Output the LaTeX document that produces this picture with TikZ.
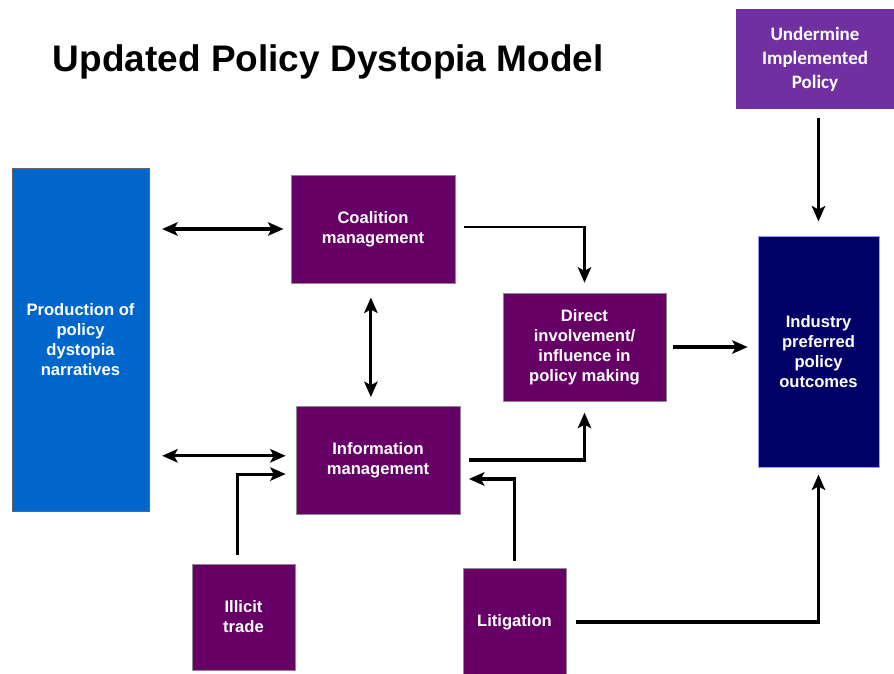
\documentclass[tikz,border=0pt]{standalone}
\usepackage{fontspec}
\setmainfont{Liberation Sans}
\newfontfamily\calibrifont{Carlito}
\usepackage{tikz}
\usepackage{xcolor}
\usetikzlibrary{arrows.meta}

\definecolor{plum}{HTML}{660066}
\definecolor{ocean}{HTML}{0066CC}
\definecolor{nightblue}{HTML}{000066}
\definecolor{violetbox}{HTML}{7030A0}

\tikzset{
    model-box/.style = {rectangle, draw=black!45, line width=0.6pt, text=white, align=center, inner sep=2pt,
                        font=\fontsize{11.8}{14.2}\selectfont\bfseries},
    plum-box/.style = {model-box, fill=plum},
    tip/.style = {Stealth[length=11pt, width=9.5pt, inset=2.5pt]},
    link/.style = {line width=2.2pt, -{Stealth[length=11pt, width=9.5pt, inset=2.5pt]}},
    link-both/.style = {line width=2.2pt, {Stealth[length=11pt, width=9.5pt, inset=2.5pt]}-{Stealth[length=11pt, width=9.5pt, inset=2.5pt]}},
}

\begin{document}
\begin{tikzpicture}[x=0.025cm, y=-0.025cm]
\useasboundingbox (0,0) rectangle (894,673);

\node[anchor=west, font=\fontsize{26.3}{30}\selectfont\bfseries] (title) at (48,62) {Updated Policy Dystopia Model};

% boxes
\node[model-box, fill=ocean, draw=black!60, minimum width=3.425cm, minimum height=8.575cm] (prod) at (80.5,339.5)
    {Production of\\policy\\dystopia\\narratives};
\node[plum-box, minimum width=4.1cm, minimum height=2.7cm] (coal) at (373,229) {Coalition\\management};
\node[plum-box, minimum width=4.075cm, minimum height=2.7cm] (direct) at (584.5,347)
    {Direct\\involvement/\\influence in\\policy making};
\node[plum-box, minimum width=4.1cm, minimum height=2.7cm] (info) at (378,460) {Information\\management};
\node[plum-box, minimum width=2.575cm, minimum height=2.65cm] (illicit) at (243.5,617) {Illicit\\trade};
\node[plum-box, minimum width=2.575cm, minimum height=2.7cm] (litig) at (514.5,622) {Litigation};
\node[model-box, fill=nightblue, draw=blue!40, minimum width=3.025cm, minimum height=5.775cm] (industry) at (818.5,351.5)
    {Industry\\preferred\\policy\\outcomes};
\node[model-box, fill=violetbox, draw=none, minimum width=3.95cm, minimum height=2.5cm,
      font=\fontsize{13.5}{17}\selectfont\calibrifont\bfseries] (undermine) at (815,59)
    {Undermine\\Implemented\\Policy};

% connectors
\draw[link-both, shorten <=9pt, shorten >=5pt] (coal.west -| prod.east) -- (coal.west);
\draw[link-both, shorten <=9pt, shorten >=7pt] ([yshift=3pt]info.west -| prod.east) -- ([yshift=3pt]info.west);
\draw[link-both, shorten <=10pt, shorten >=6pt] ([xshift=-1.5pt]coal.south) -- ([xshift=-1.5pt]coal.south |- info.north);
\draw[link, line width=1.8pt, shorten <=6pt, shorten >=7pt] ([yshift=1.5pt]coal.east) -| (direct.north);
\draw[link, shorten <=6pt, shorten >=8pt] (info.east) -| (direct.south);
\draw[link, shorten <=5pt, shorten >=7pt] (direct.east) -- (direct.east -| industry.west);
\draw[link, shorten <=6pt, shorten >=10pt] (industry.north |- undermine.south) -- (industry.north);
\draw[link, shorten <=6pt, shorten >=7pt] ([xshift=-4.5pt]illicit.north) |- ([yshift=-10pt]info.west);
\draw[link, shorten <=5pt, shorten >=6pt] (litig.north) |- ([yshift=-13.5pt]info.east);
\draw[link, shorten <=7pt, shorten >=5pt] (litig.east) -| (industry.south);
\end{tikzpicture}
\end{document}
